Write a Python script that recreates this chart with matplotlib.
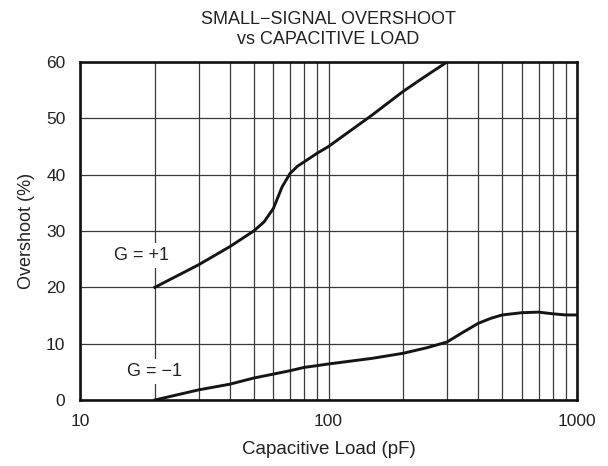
import matplotlib
matplotlib.use("Agg")
import matplotlib.pyplot as plt
import numpy as np

plt.rcParams['font.family'] = ['Liberation Sans', 'DejaVu Sans']

# G = +1 curve
gp_x = [20, 30, 40, 50, 55, 60, 65, 70, 75, 80, 90, 100, 150, 200, 250, 300]
gp_y = [20, 24, 27.2, 30, 31.6, 34, 37.8, 40.2, 41.5, 42.3, 43.8, 45, 50.6, 54.8, 57.7, 60]
# G = -1 curve
gm_x = [20, 30, 40, 50, 60, 70, 80, 90, 100, 150, 200, 250, 300, 350, 400, 450, 500, 600, 700, 800, 900, 1000]
gm_y = [0, 1.8, 2.8, 3.9, 4.6, 5.2, 5.8, 6.1, 6.4, 7.4, 8.3, 9.3, 10.3, 12.1, 13.6, 14.5, 15.1, 15.5, 15.6, 15.3, 15.1, 15.1]

x_ticks = [10, 100, 1000]
x_ticklabels = ['10', '100', '1000']
y_ticks = [0, 10, 20, 30, 40, 50, 60]

fig = plt.figure(figsize=(6.08, 4.66), dpi=100)
ax = fig.add_axes([0.1316, 0.1416, 0.8174, 0.7254])
ax.set_xscale('log')
ax.set_xlim(10, 1000)
ax.set_ylim(0, 60)

ax.set_xticks(x_ticks)
ax.set_xticklabels(x_ticklabels)
ax.set_xticks([v * d for d in (10, 100) for v in range(2, 10)], minor=True)
ax.xaxis.set_minor_formatter(matplotlib.ticker.NullFormatter())
ax.set_yticks(y_ticks)
ax.tick_params(which='both', length=0, labelsize=12.5, colors='#222222')
ax.tick_params(axis='x', pad=10)
ax.tick_params(axis='y', pad=10.5)
ax.grid(True, which='both', axis='x', color='#3a3a3a', lw=0.9)
ax.grid(True, which='major', axis='y', color='#3a3a3a', lw=0.9)
ax.set_axisbelow(True)
for s in ax.spines.values():
    s.set_linewidth(1.9)
    s.set_color('#111111')

ax.plot(gp_x, gp_y, color='#151515', lw=2.1)
ax.plot(gm_x, gm_y, color='#151515', lw=2.1)

ax.text(17.6, 25.6, 'G = +1', ha='center', va='center', fontsize=13, color='#222222',
        bbox=dict(facecolor='white', edgecolor='none', pad=3))
ax.text(19.9, 5.06, 'G = \u22121', ha='center', va='center', fontsize=13, color='#222222',
        bbox=dict(facecolor='white', edgecolor='none', pad=3))

ax.set_xlabel('Capacitive Load (pF)', fontsize=13.5, labelpad=9, color='#222222')
ax.set_ylabel('Overshoot (%)', fontsize=13, labelpad=8, color='#222222')
ax.set_title('SMALL\u2212SIGNAL OVERSHOOT\nvs CAPACITIVE LOAD', fontsize=13, pad=13,
             linespacing=1.2, color='#222222')

fig.savefig('out.png', dpi=100)
